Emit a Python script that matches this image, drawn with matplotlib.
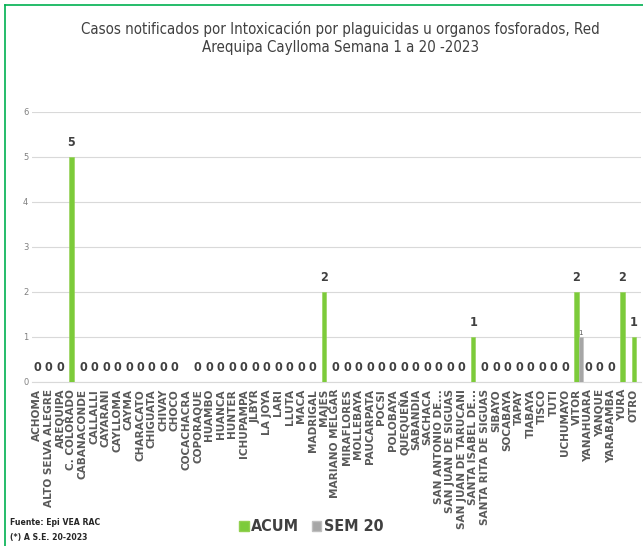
import matplotlib
matplotlib.use("Agg")
import matplotlib.pyplot as plt
from matplotlib.patches import Patch
from matplotlib import font_manager
import numpy as np

categories = ["ACHOMA", "ALTO SELVA ALEGRE", "AREQUIPA", "C. COLORADO", "CABANACONDE",
              "CALLALLI", "CAYARANI", "CAYLLOMA", "CAYMA", "CHARACATO", "CHIGUATA",
              "CHIVAY", "CHOCO", "COCACHACRA", "COPORAQUE", "HUAMBO", "HUANCA", "HUNTER",
              "ICHUPAMPA", "JLBYR", "LA JOYA", "LARI", "LLUTA", "MACA", "MADRIGAL",
              "MAJES", "MARIANO MELGAR", "MIRAFLORES", "MOLLEBAYA", "PAUCARPATA", "POCSI",
              "POLOBAYA", "QUEQUEÑA", "SABANDIA", "SACHACA", "SAN ANTONIO DE...",
              "SAN JUAN DE SIGUAS", "SAN JUAN DE TARUCANI", "SANTA ISABEL DE...",
              "SANTA RITA DE SIGUAS", "SIBAYO", "SOCABAYA", "TAPAY", "TIABAYA", "TISCO",
              "TUTI", "UCHUMAYO", "VITOR", "YANAHUARA", "YANQUE", "YARABAMBA", "YURA", "OTRO"]

acum = [0, 0, 0, 5, 0, 0, 0, 0, 0, 0, 0, 0, 0, None, 0, 0, 0, 0, 0, 0, 0, 0, 0, 0, 0,
        2, 0, 0, 0, 0, 0, 0, 0, 0, 0, 0, 0, 0, 1, 0, 0, 0, 0, 0, 0, 0, 0, 2, 0, 0, 0, 2, 1]
sem20 = [0] * 47 + [1] + [0] * 5

title = "Casos notificados por Intoxicación por plaguicidas u organos fosforados, Red\nArequipa Caylloma Semana 1 a 20 -2023"

# look for a condensed / narrow face
cond_reg = None
cond_bold = None
for f in font_manager.fontManager.ttflist:
    fn = f.fname.lower()
    if ("condensed" in fn or "narrow" in fn) and "oblique" not in fn and "italic" not in fn:
        if "bold" in fn:
            cond_bold = cond_bold or f.fname
        else:
            cond_reg = cond_reg or f.fname

def fp(bold=False, size=10):
    path = cond_bold if bold else cond_reg
    if path:
        return font_manager.FontProperties(fname=path, size=size)
    return font_manager.FontProperties(family="DejaVu Sans", weight="bold" if bold else "normal",
                                       size=size * 0.88)

fig = plt.figure(figsize=(6.43, 5.46), dpi=100)
ax = fig.add_axes([0.0505, 0.3004, 0.946, 0.4946])

x = np.arange(len(categories))
w = 0.38
green = "#7CCB3A"
grey = "#A6A6A6"
acum_vals = np.array([np.nan if v is None else v for v in acum], dtype=float)
sem_vals = np.array(sem20, dtype=float)

ax.bar(x, np.nan_to_num(acum_vals), width=w, color=green, edgecolor="#92D050", linewidth=0.4, zorder=3)
ax.bar(x + w, sem_vals, width=w, color=grey, edgecolor="#BFBFBF", linewidth=0.4, zorder=3)

for xi, v in zip(x, acum_vals):
    if np.isnan(v):
        continue
    ax.text(xi, v + 0.17, f"{int(v)}", ha="center", va="bottom",
            fontproperties=fp(True, 9), color="#404040")
for xi, v in zip(x, sem_vals):
    if v > 0:
        ax.text(xi + w, v + 0.03, f"{int(v)}", ha="center", va="bottom", fontsize=5,
                color="#595959")

ax.set_ylim(0, 6)
ax.set_xlim(-0.4, 52.6)
ax.set_yticks(range(7))
ax.tick_params(axis="y", length=0, labelsize=6, labelcolor="#808080", pad=3)
ax.set_xticks(x)
ax.set_xticklabels(categories, rotation=90, fontsize=7.6, fontweight="bold", color="#595959")
ax.tick_params(axis="x", length=0, pad=5)
ax.grid(axis="y", color="#D9D9D9", linewidth=0.8, zorder=0)
for s in ["top", "right", "left"]:
    ax.spines[s].set_visible(False)
ax.spines["bottom"].set_color("#D9D9D9")

fig.text(0.53, 0.962, title, ha="center", va="top", fontproperties=fp(False, 10.8),
         color="#404040", linespacing=1.3)

fig.text(0.016, 0.035, "Fuente: Epi VEA RAC", fontproperties=fp(True, 6.2),
         color="#262626", ha="left", va="bottom")
fig.text(0.016, 0.008, "(*) A S.E. 20-2023", fontproperties=fp(True, 6.2),
         color="#262626", ha="left", va="bottom")

handles = [Patch(facecolor=green, edgecolor="#92D050"), Patch(facecolor=grey, edgecolor="#BFBFBF")]
leg = fig.legend(handles, ["ACUM", "SEM 20"], loc="center", bbox_to_anchor=(0.484, 0.035),
                 ncol=2, frameon=False, handlelength=0.6, handleheight=0.6, handletextpad=0.15,
                 columnspacing=0.8, prop=fp(True, 11.5))
for t in leg.get_texts():
    t.set_color("#404040")

# green frame on left and top
fig.add_artist(plt.Line2D([0.008, 0.008], [0, 0.99], color="#00B050", linewidth=1.2))
fig.add_artist(plt.Line2D([0.008, 1.0], [0.99, 0.99], color="#00B050", linewidth=1.2))

fig.savefig("out.png", dpi=100)
